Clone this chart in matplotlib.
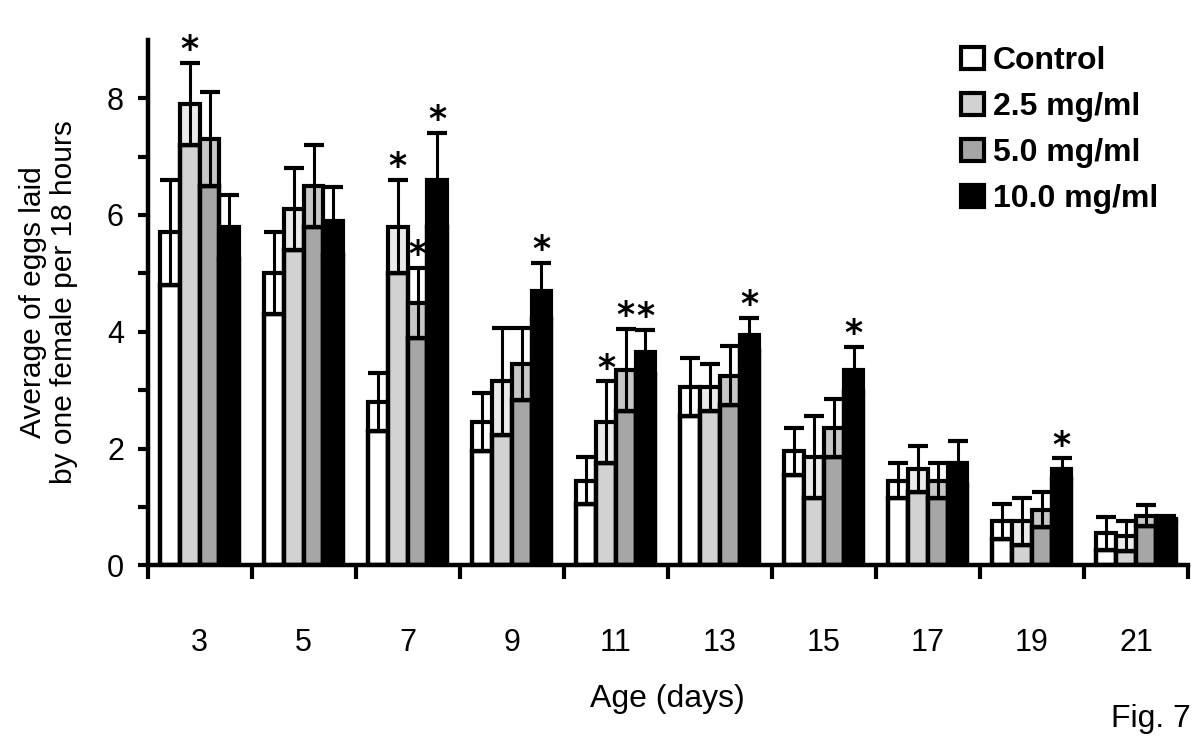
import numpy as np
import matplotlib
matplotlib.use('Agg')
import matplotlib.pyplot as plt
from matplotlib.patches import Patch

plt.rcParams['font.family'] = ['Liberation Sans', 'DejaVu Sans']

ages = ['3', '5', '7', '9', '11', '13', '15', '17', '19', '21']
series = ['Control', '2.5 mg/ml', '5.0 mg/ml', '10.0 mg/ml']

ctrl = [5.7, 5.0, 2.8, 2.45, 1.45, 3.05, 1.95, 1.45, 0.75, 0.55]
c25 = [7.9, 6.1, 5.8, 3.15, 2.45, 3.05, 1.85, 1.65, 0.75, 0.5]
c50 = [7.3, 6.5, 4.5, 3.45, 3.35, 3.25, 2.35, 1.45, 0.95, 0.85]
c100 = [5.8, 5.9, 6.6, 4.7, 3.65, 3.95, 3.35, 1.75, 1.65, 0.8]

ctrl_sd = [0.9, 0.7, 0.5, 0.5, 0.4, 0.5, 0.4, 0.3, 0.3, 0.28]
c25_sd = [0.7, 0.7, 0.8, 0.92, 0.7, 0.4, 0.7, 0.4, 0.4, 0.26]
c50_sd = [0.8, 0.7, 0.6, 0.62, 0.7, 0.5, 0.5, 0.3, 0.3, 0.18]
c100_sd = [0.55, 0.58, 0.8, 0.48, 0.38, 0.28, 0.39, 0.38, 0.18, 0.05]

# groups (index into ages) marked with * for each series
sig = {'Control': [], '2.5 mg/ml': [0, 2, 4], '5.0 mg/ml': [2, 4],
       '10.0 mg/ml': [2, 3, 4, 5, 6, 8]}

means = [ctrl, c25, c50, c100]
sds = [ctrl_sd, c25_sd, c50_sd, c100_sd]
body_col = ['white', '#d2d2d2', '#a6a6a6', 'black']
top_col = ['white', '#ebebeb', '#c6c6c6', 'black']

fig = plt.figure(figsize=(12, 7.37), dpi=100)
ax = fig.add_axes([0.123, 0.233, 0.867, 0.713])

x = np.arange(len(ages))
w = 0.19
for k in range(4):
    m = np.array(means[k])
    s = np.array(sds[k])
    xs = x + (k - 1.5) * w
    ax.bar(xs, m - s, w, color=body_col[k], edgecolor='black', linewidth=3.2, zorder=2)
    ax.bar(xs, s, w, bottom=m - s, color=top_col[k], edgecolor='black', linewidth=3.0, zorder=2)
    ax.errorbar(xs, m, yerr=s, fmt='none', ecolor='black', elinewidth=2.2,
                capsize=7, capthick=3, zorder=3)
    for g in sig[series[k]]:
        ax.text(xs[g], m[g] + s[g] + 0.22, '*', ha='center', va='center',
                fontsize=25, fontweight='bold', family='DejaVu Sans', zorder=4)

ax.set_xlim(-0.5, 9.5)
ax.set_ylim(0, 9)
for sp in ['top', 'right']:
    ax.spines[sp].set_visible(False)
ax.spines['left'].set_linewidth(3.2)
ax.spines['bottom'].set_linewidth(3.2)

ax.set_yticks([0, 2, 4, 6, 8])
ax.set_yticks([1, 3, 5, 7], minor=True)
ax.tick_params(axis='y', which='both', direction='out', length=7, width=3,
               labelsize=22, pad=10)

ax.set_xticks(x)
ax.set_xticklabels(ages)
ax.set_xticks(np.arange(-0.5, 10, 1.0), minor=True)
ax.tick_params(axis='x', which='major', length=0, labelsize=22, pad=45)
ax.tick_params(axis='x', which='minor', direction='out', length=10, width=3)

ax.set_xlabel('Age (days)', fontsize=23, labelpad=19)
ax.set_ylabel('Average of eggs laid\nby one female per 18 hours', fontsize=21.5,
              linespacing=1.1, labelpad=21)

handles = [Patch(facecolor=body_col[k], edgecolor='black', linewidth=3) for k in range(4)]
leg = fig.legend(handles, series, loc='upper left', bbox_to_anchor=(0.801, 0.937),
                 frameon=False, prop={'size': 23, 'weight': 'bold'},
                 handlelength=0.7, handleheight=0.7, handletextpad=0.3,
                 labelspacing=0.5, borderpad=0, borderaxespad=0)

fig.text(0.992, 0.025, 'Fig. 7', ha='right', va='center', fontsize=23)

fig.savefig('out.png', dpi=100)
